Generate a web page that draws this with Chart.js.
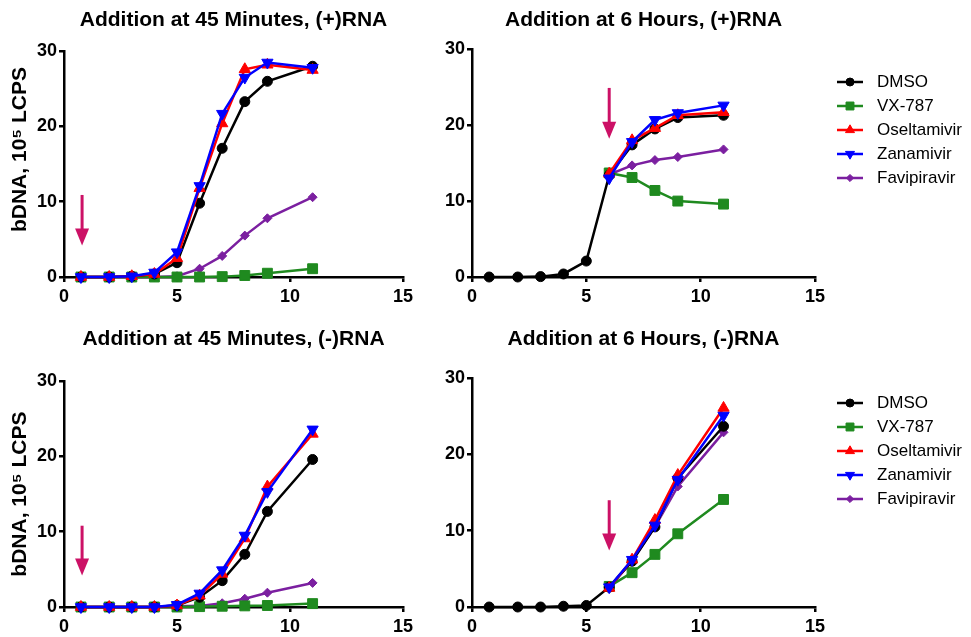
<!DOCTYPE html>
<html>
<head>
<meta charset="utf-8">
<script src="https://cdn.jsdelivr.net/npm/chart.js@4.4.1/dist/chart.umd.min.js"></script>
<style>
  body { margin: 0; background: #fff; width: 971px; height: 637px; position: relative; overflow: hidden; }
  canvas { position: absolute; }
</style>
</head>
<body>
<canvas id="tl" width="418" height="307" style="left:0;top:0"></canvas>
<canvas id="tr" width="541" height="307" style="left:430px;top:0"></canvas>
<canvas id="bl" width="418" height="318" style="left:0;top:319px"></canvas>
<canvas id="br" width="541" height="318" style="left:430px;top:319px"></canvas>
<script>
// sampling times (hours)
const hours = [0.75, 2, 3, 4, 5, 6, 7, 8, 9, 11];
const drugs = ['DMSO', 'VX-787', 'Oseltamivir', 'Zanamivir', 'Favipiravir'];

// Addition at 45 Minutes, (+)RNA
const dmsoTL = [0, 0, 0.1, 0.4, 1.9, 9.8, 17.1, 23.3, 26.0, 28.0];
const vxTL   = [0, 0, 0, 0, 0, 0, 0.05, 0.2, 0.5, 1.1];
const oselTL = [0, 0, 0.1, 0.4, 2.5, 11.8, 20.4, 27.6, 28.2, 27.5];
const zanaTL = [0, 0, 0.1, 0.6, 3.3, 12.1, 21.7, 26.5, 28.5, 27.8];
const faviTL = [0, 0, 0, 0, 0.1, 1.1, 2.8, 5.5, 7.8, 10.6];

// Addition at 6 Hours, (+)RNA
const dmsoTR = [0, 0, 0.05, 0.4, 2.1, 13.4, 17.4, 19.5, 21.0, 21.3];
const vxTR   = [null, null, null, null, null, 13.7, 13.1, 11.4, 10.0, 9.6];
const oselTR = [null, null, null, null, null, 13.6, 18.0, 19.6, 21.3, 21.7];
const zanaTR = [null, null, null, null, null, 13.0, 17.8, 20.7, 21.6, 22.6];
const faviTR = [null, null, null, null, null, 13.5, 14.7, 15.4, 15.8, 16.8];

// Addition at 45 Minutes, (-)RNA
const dmsoBL = [0, 0, 0, 0, 0.2, 1.3, 3.5, 7.0, 12.7, 19.6];
const vxBL   = [0, 0, 0, 0, 0, 0.05, 0.1, 0.15, 0.2, 0.45];
const oselBL = [0, 0, 0, 0, 0.2, 1.5, 4.4, 9.1, 16.0, 23.0];
const zanaBL = [0, 0, 0, 0, 0.3, 1.8, 4.9, 9.5, 15.3, 23.6];
const faviBL = [0, 0, 0, 0, 0.1, 0.15, 0.5, 1.1, 1.9, 3.2];

// Addition at 6 Hours, (-)RNA
const dmsoBR = [0, 0, 0, 0.1, 0.2, 2.6, 6.0, 10.5, 16.9, 23.7];
const vxBR   = [null, null, null, null, null, 2.7, 4.5, 6.9, 9.6, 14.1];
const oselBR = [null, null, null, null, null, 2.5, 6.2, 11.4, 17.3, 26.1];
const zanaBR = [null, null, null, null, null, 2.6, 6.2, 10.7, 16.7, 25.1];
const faviBR = [null, null, null, null, null, 2.6, 6.0, 10.5, 15.8, 22.9];

// drug addition arrows: [hour, from value, to value]
const arrowTL = [0.8, 10.9, 4.2];
const arrowTR = [6, 24.9, 18.2];
const arrowBL = [0.8, 10.8, 4.2];
const arrowBR = [6, 14.0, 7.4];

const styles = [
  { color: '#000000', pointStyle: 'circle', radius: 5, rotation: 0, order: 3 },
  { color: '#1f8a1f', pointStyle: 'rect', radius: 7, rotation: 0, order: 4 },
  { color: '#ff0000', pointStyle: 'triangle', radius: 6.5, rotation: 0, order: 2 },
  { color: '#0000ff', pointStyle: 'triangle', radius: 6.5, rotation: 180, order: 1 },
  { color: '#7b1fa0', pointStyle: 'rectRot', radius: 4.5, rotation: 0, order: 5 }
];
const arrowColor = '#cc1166';

function toPoints(vals) {
  return hours.map((h, i) => ({ x: h, y: vals[i] })).filter(p => p.y !== null);
}

const extras = {
  id: 'extras',
  afterDatasetsDraw(chart, args, opts) {
    const ctx = chart.ctx;
    const ax = chart.scales.x.getPixelForValue(opts.arrow[0]);
    const y0 = chart.scales.y.getPixelForValue(opts.arrow[1]);
    const y1 = chart.scales.y.getPixelForValue(opts.arrow[2]);
    ctx.save();
    ctx.strokeStyle = arrowColor;
    ctx.fillStyle = arrowColor;
    ctx.lineWidth = 3;
    ctx.beginPath();
    ctx.moveTo(ax, y0);
    ctx.lineTo(ax, y1 - 14);
    ctx.stroke();
    ctx.beginPath();
    ctx.moveTo(ax - 7, y1 - 17);
    ctx.lineTo(ax + 7, y1 - 17);
    ctx.lineTo(ax, y1);
    ctx.closePath();
    ctx.fill();
    ctx.restore();
  },
  afterDraw(chart, args, opts) {
    if (opts.legendTop == null) return;
    const ctx = chart.ctx;
    const x0 = chart.chartArea.right + 22;
    ctx.save();
    chart.data.datasets.forEach((ds, i) => {
      const y = opts.legendTop + i * 24;
      const st = styles[i];
      ctx.strokeStyle = st.color;
      ctx.fillStyle = st.color;
      ctx.lineWidth = 2.5;
      ctx.beginPath();
      ctx.moveTo(x0, y);
      ctx.lineTo(x0 + 26, y);
      ctx.stroke();
      ctx.lineWidth = 1;
      Chart.helpers.drawPoint(ctx, { pointStyle: st.pointStyle, radius: st.radius * 0.8, rotation: st.rotation, borderWidth: 1 }, x0 + 13, y);
      ctx.fillStyle = '#000';
      ctx.font = '17px "Liberation Sans", Arial, sans-serif';
      ctx.textBaseline = 'middle';
      ctx.textAlign = 'left';
      ctx.fillText(ds.label, x0 + 40, y);
    });
    ctx.restore();
  }
};

function makeChart(id, title, series, arrow, p) {
  const datasets = series.map((vals, i) => ({
    label: drugs[i],
    data: toPoints(vals),
    borderColor: styles[i].color,
    backgroundColor: styles[i].color,
    borderWidth: 2.5,
    pointStyle: styles[i].pointStyle,
    pointRadius: styles[i].radius,
    pointRotation: styles[i].rotation,
    pointBorderWidth: 1,
    order: styles[i].order,
    clip: false,
    tension: 0
  }));
  const tickFont = { family: '"Liberation Sans", Arial, sans-serif', size: 18, weight: 'bold' };
  return new Chart(document.getElementById(id), {
    type: 'line',
    data: { datasets },
    plugins: [extras],
    options: {
      responsive: false,
      devicePixelRatio: 1,
      animation: false,
      layout: { padding: { right: p.right } },
      plugins: {
        legend: { display: false },
        tooltip: { enabled: false },
        title: {
          display: true,
          text: title,
          fullSize: false,
          color: '#000',
          font: { family: '"Liberation Sans", Arial, sans-serif', size: 21, weight: 'bold' },
          padding: { top: 8, bottom: p.titleGap }
        },
        extras: { arrow: arrow, legendTop: p.legendTop }
      },
      scales: {
        x: {
          type: 'linear',
          min: 0,
          max: 15,
          afterFit: s => { s.height = 30; },
          ticks: { stepSize: 5, color: '#000', font: tickFont, padding: 4, maxRotation: 0 },
          grid: { drawOnChartArea: false, drawTicks: true, tickLength: 5, color: '#000', lineWidth: 2.5 },
          border: { color: '#000', width: 2.5 }
        },
        y: {
          min: 0,
          max: 30,
          afterFit: s => { s.width = p.yWidth; },
          ticks: { stepSize: 10, color: '#000', font: tickFont, padding: 2 },
          grid: { drawOnChartArea: false, drawTicks: true, tickLength: 5, color: '#000', lineWidth: 2.5 },
          border: { color: '#000', width: 2.5 },
          title: {
            display: p.yTitle != null,
            text: p.yTitle,
            color: '#000',
            font: { family: '"Liberation Sans", Arial, sans-serif', size: 21, weight: 'bold' },
            padding: { top: 8, bottom: 0 }
          }
        }
      }
    }
  });
}

makeChart('tl', 'Addition at 45 Minutes, (+)RNA', [dmsoTL, vxTL, oselTL, zanaTL, faviTL], arrowTL,
  { right: 15, titleGap: 18, yWidth: 64, yTitle: '     bDNA, 10\u2075 LCPS', legendTop: null });
makeChart('tr', 'Addition at 6 Hours, (+)RNA', [dmsoTR, vxTR, oselTR, zanaTR, faviTR], arrowTR,
  { right: 156, titleGap: 16, yWidth: 42, yTitle: null, legendTop: 82 });
makeChart('bl', 'Addition at 45 Minutes, (-)RNA', [dmsoBL, vxBL, oselBL, zanaBL, faviBL], arrowBL,
  { right: 15, titleGap: 29, yWidth: 64, yTitle: 'bDNA, 10\u2075 LCPS', legendTop: null });
makeChart('br', 'Addition at 6 Hours, (-)RNA', [dmsoBR, vxBR, oselBR, zanaBR, faviBR], arrowBR,
  { right: 156, titleGap: 26, yWidth: 42, yTitle: null, legendTop: 84 });
</script>
</body>
</html>
